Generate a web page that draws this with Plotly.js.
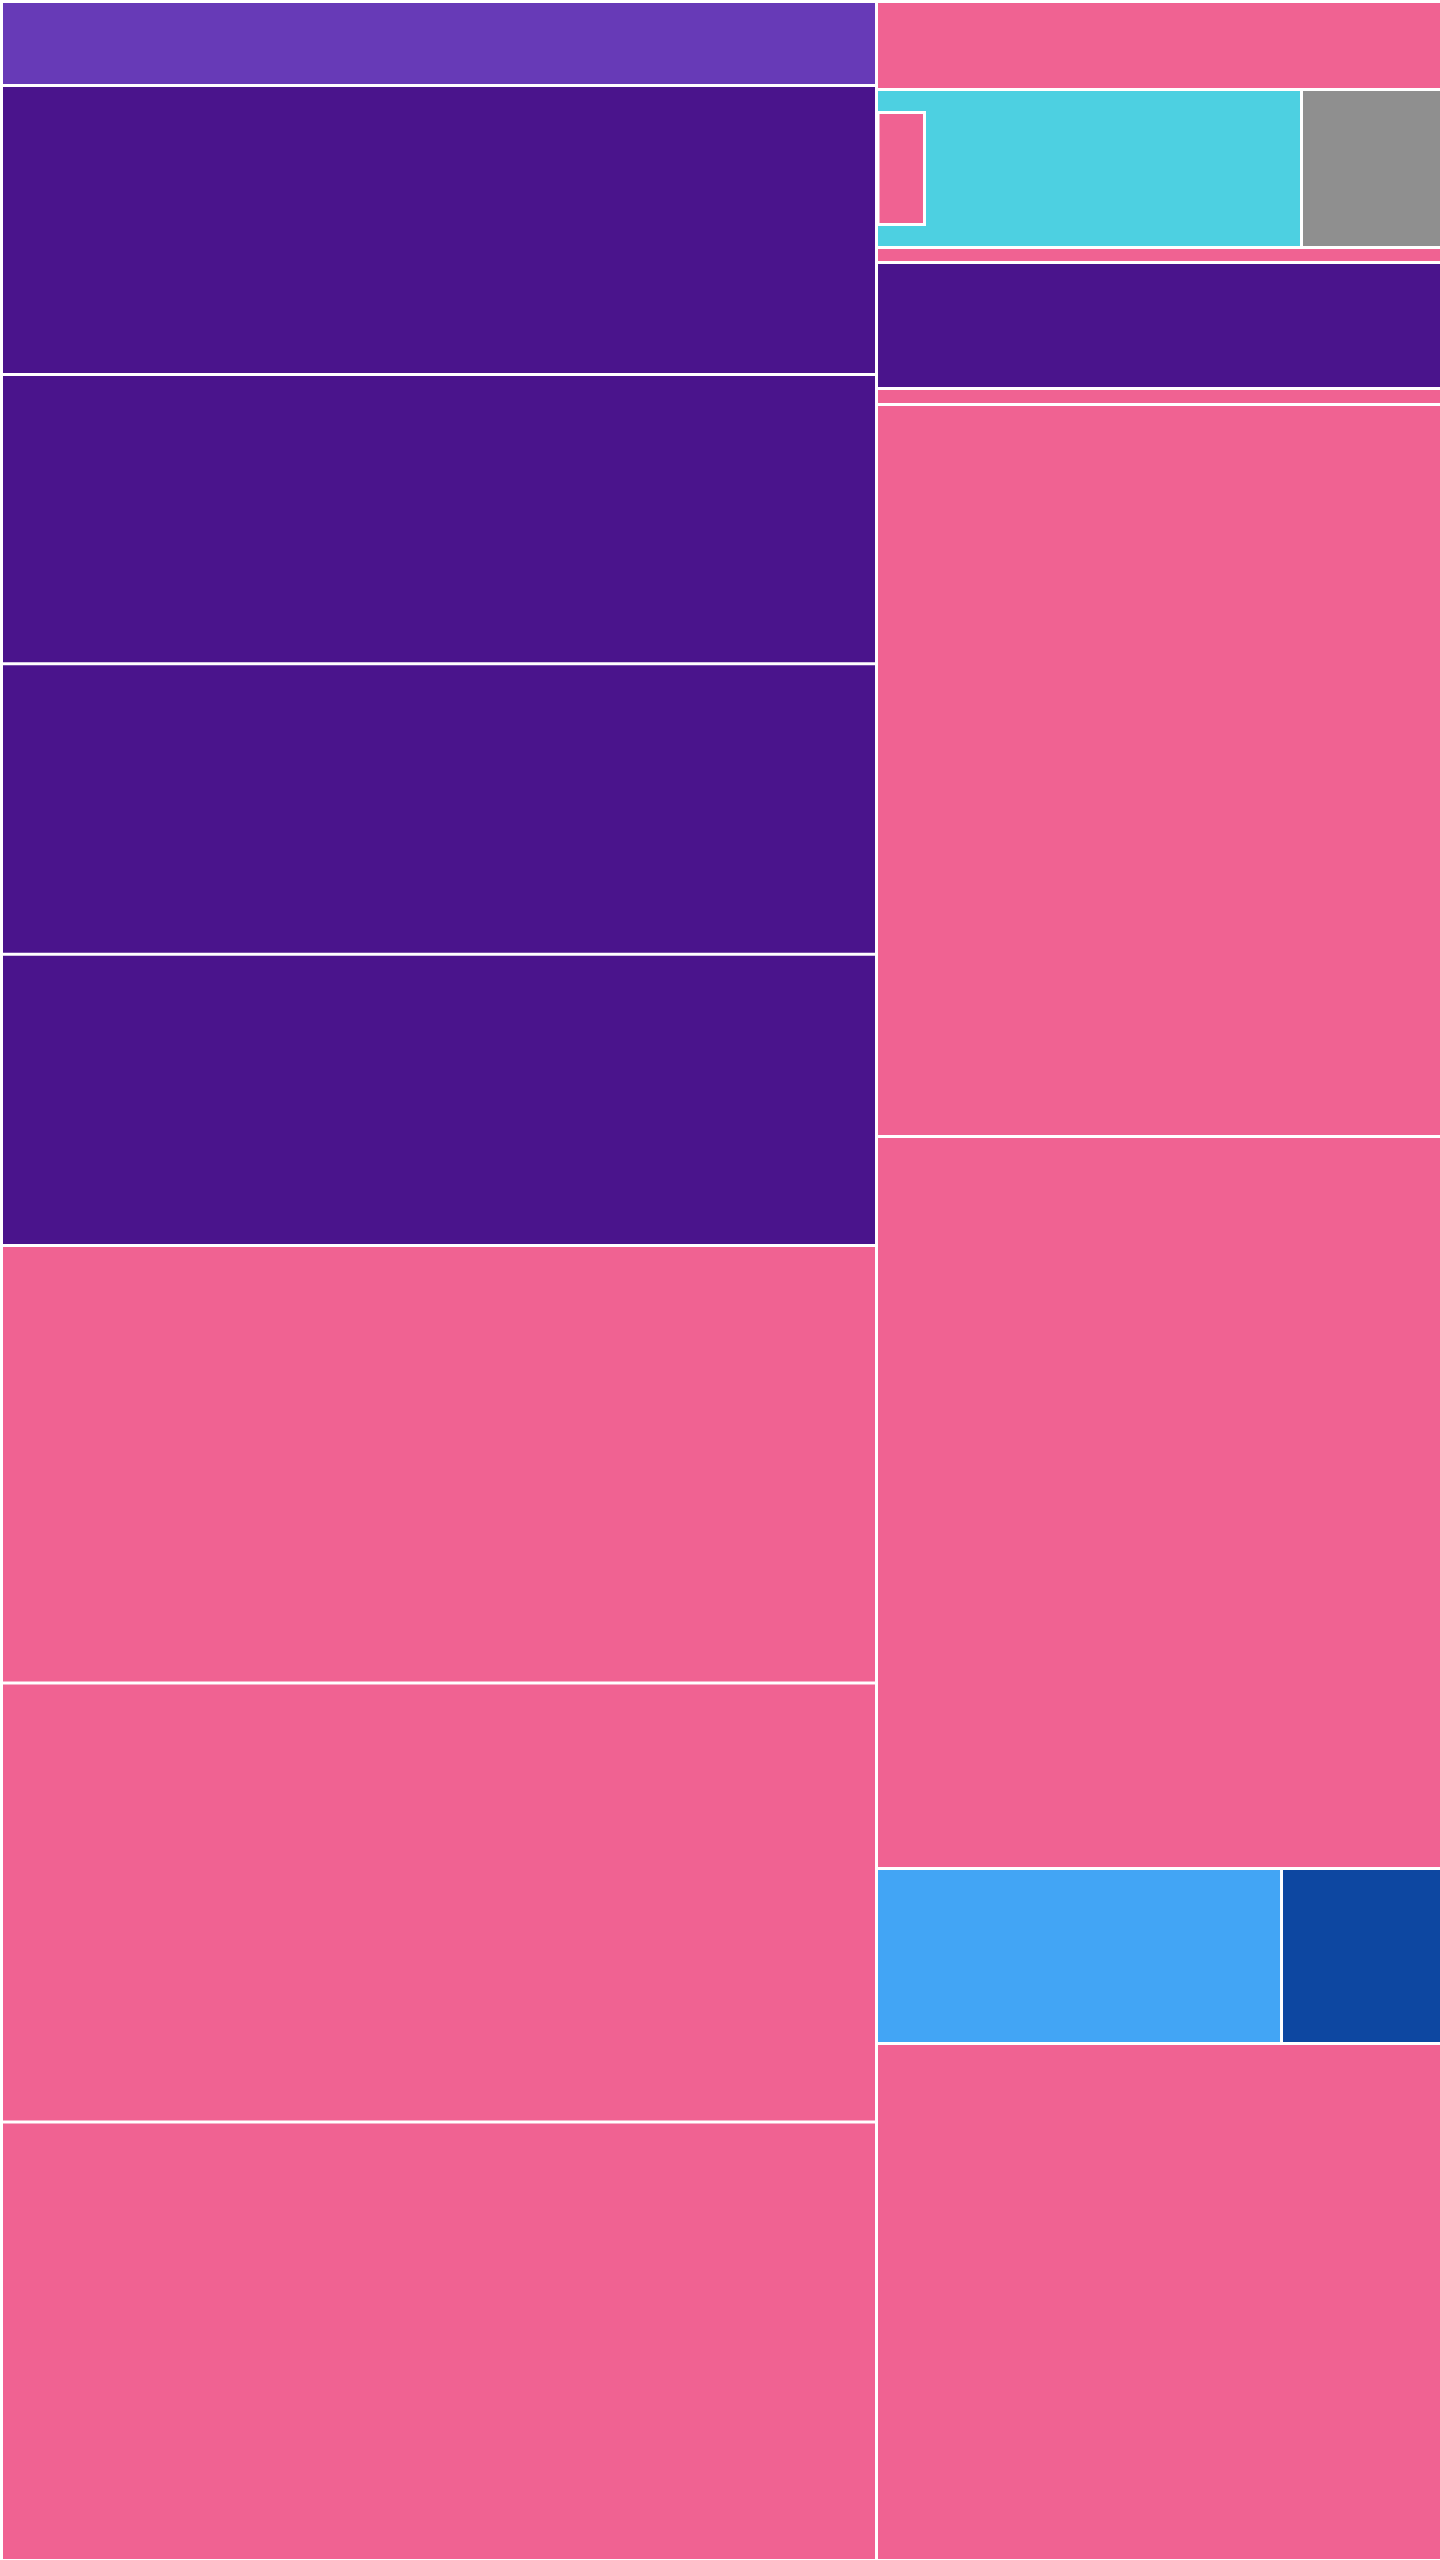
<!DOCTYPE html>
<html>
<head>
<meta charset="utf-8">
<script src="https://cdn.plot.ly/plotly-3.0.1.min.js"></script>
<style>
  html, body { margin: 0; padding: 0; overflow: hidden; background: #ffffff; }
  #chart { width: 1440px; height: 2560px; }
</style>
</head>
<body>
<div id="chart"></div>
<script>
// ---------------- DATA ----------------
// Left column, top to bottom
const leftLabels = ['L1', 'L2', 'L3', 'L4', 'L5', 'L6', 'L7', 'L8'];
const leftGroups = ['B', 'A', 'A', 'A', 'A', 'C', 'C', 'C'];
const leftValues = [73.5, 252.9, 253.05, 254.28, 254.8, 382.81, 384.13, 383.69];

// Right column, top to bottom (R2 and R8 are split further)
const rightLabels = ['R1', 'R2', 'R3', 'R4', 'R5', 'R6', 'R7', 'R8', 'R9'];
const rightGroups = ['C', null, 'C', 'A', 'C', 'C', 'C', null, 'C'];
const rightValues = [49.72, 0, 8.48, 71.19, 9.04, 413.58, 413.58, 0, 292.1];

// R2 split left to right (R2a keeps its own remainder)
const r2Labels = ['R2a', 'R2b'];
const r2Groups = ['D', 'E'];
const r2Values = [9.14, 22.12];

// inside R2a: top gap, then the band holding the small cell
const r2aLabels = ['R2a gap', 'R2a band'];
const r2aValues = [9.14, 43.18];
const bandLabels = ['R2a-1'];
const bandGroups = ['C'];
const bandValues = [5.69];

// R8 split left to right
const r8Labels = ['R8a', 'R8b'];
const r8Groups = ['F', 'G'];
const r8Values = [70.88, 28.0];

// ---------------- STYLE ----------------
const palette = {
  A: '#4A148C',
  B: '#673AB7',
  C: '#F06292',
  D: '#4DD0E1',
  E: '#8F8F8F',
  F: '#42A5F5',
  G: '#0D47A1'
};
const clear = 'rgba(0,0,0,0)';

const ids = [], labels = [], parents = [], values = [], colors = [], widths = [];
function add(id, parent, value, group, lineW) {
  ids.push(id);
  labels.push(id);
  parents.push(parent);
  values.push(value);
  colors.push(group ? palette[group] : clear);
  widths.push(lineW || 0);
}

add('All', '', 0, null);
add('Left', 'All', 0, null);
add('Right', 'All', 0, null);
leftLabels.forEach((l, i) => add(l, 'Left', leftValues[i], leftGroups[i]));
rightLabels.forEach((l, i) => add(l, 'Right', rightValues[i], rightGroups[i]));
r2Labels.forEach((l, i) => add(l, 'R2', r2Values[i], r2Groups[i]));
r2aLabels.forEach((l, i) => add(l, 'R2a', r2aValues[i], null));
bandLabels.forEach((l, i) => add(l, 'R2a band', bandValues[i], bandGroups[i], 3));
r8Labels.forEach((l, i) => add(l, 'R8', r8Values[i], r8Groups[i]));

const trace = {
  type: 'treemap',
  ids: ids,
  labels: labels,
  parents: parents,
  values: values,
  branchvalues: 'remainder',
  sort: false,
  textinfo: 'none',
  hoverinfo: 'label+value',
  marker: {
    colors: colors,
    line: { color: '#ffffff', width: widths },
    pad: { t: 0, l: 0, r: 0, b: 0 },
    depthfade: false
  },
  tiling: { packing: 'slice-dice', pad: 3 },
  pathbar: { visible: false },
  leaf: { opacity: 1 },
  root: { color: clear }
};

const layout = {
  width: 1440,
  height: 2560,
  margin: { l: 3, t: 3, r: 0, b: 1, pad: 0 },
  paper_bgcolor: '#ffffff',
  showlegend: false
};

Plotly.newPlot('chart', [trace], layout, { displayModeBar: false, staticPlot: true });
</script>
</body>
</html>
